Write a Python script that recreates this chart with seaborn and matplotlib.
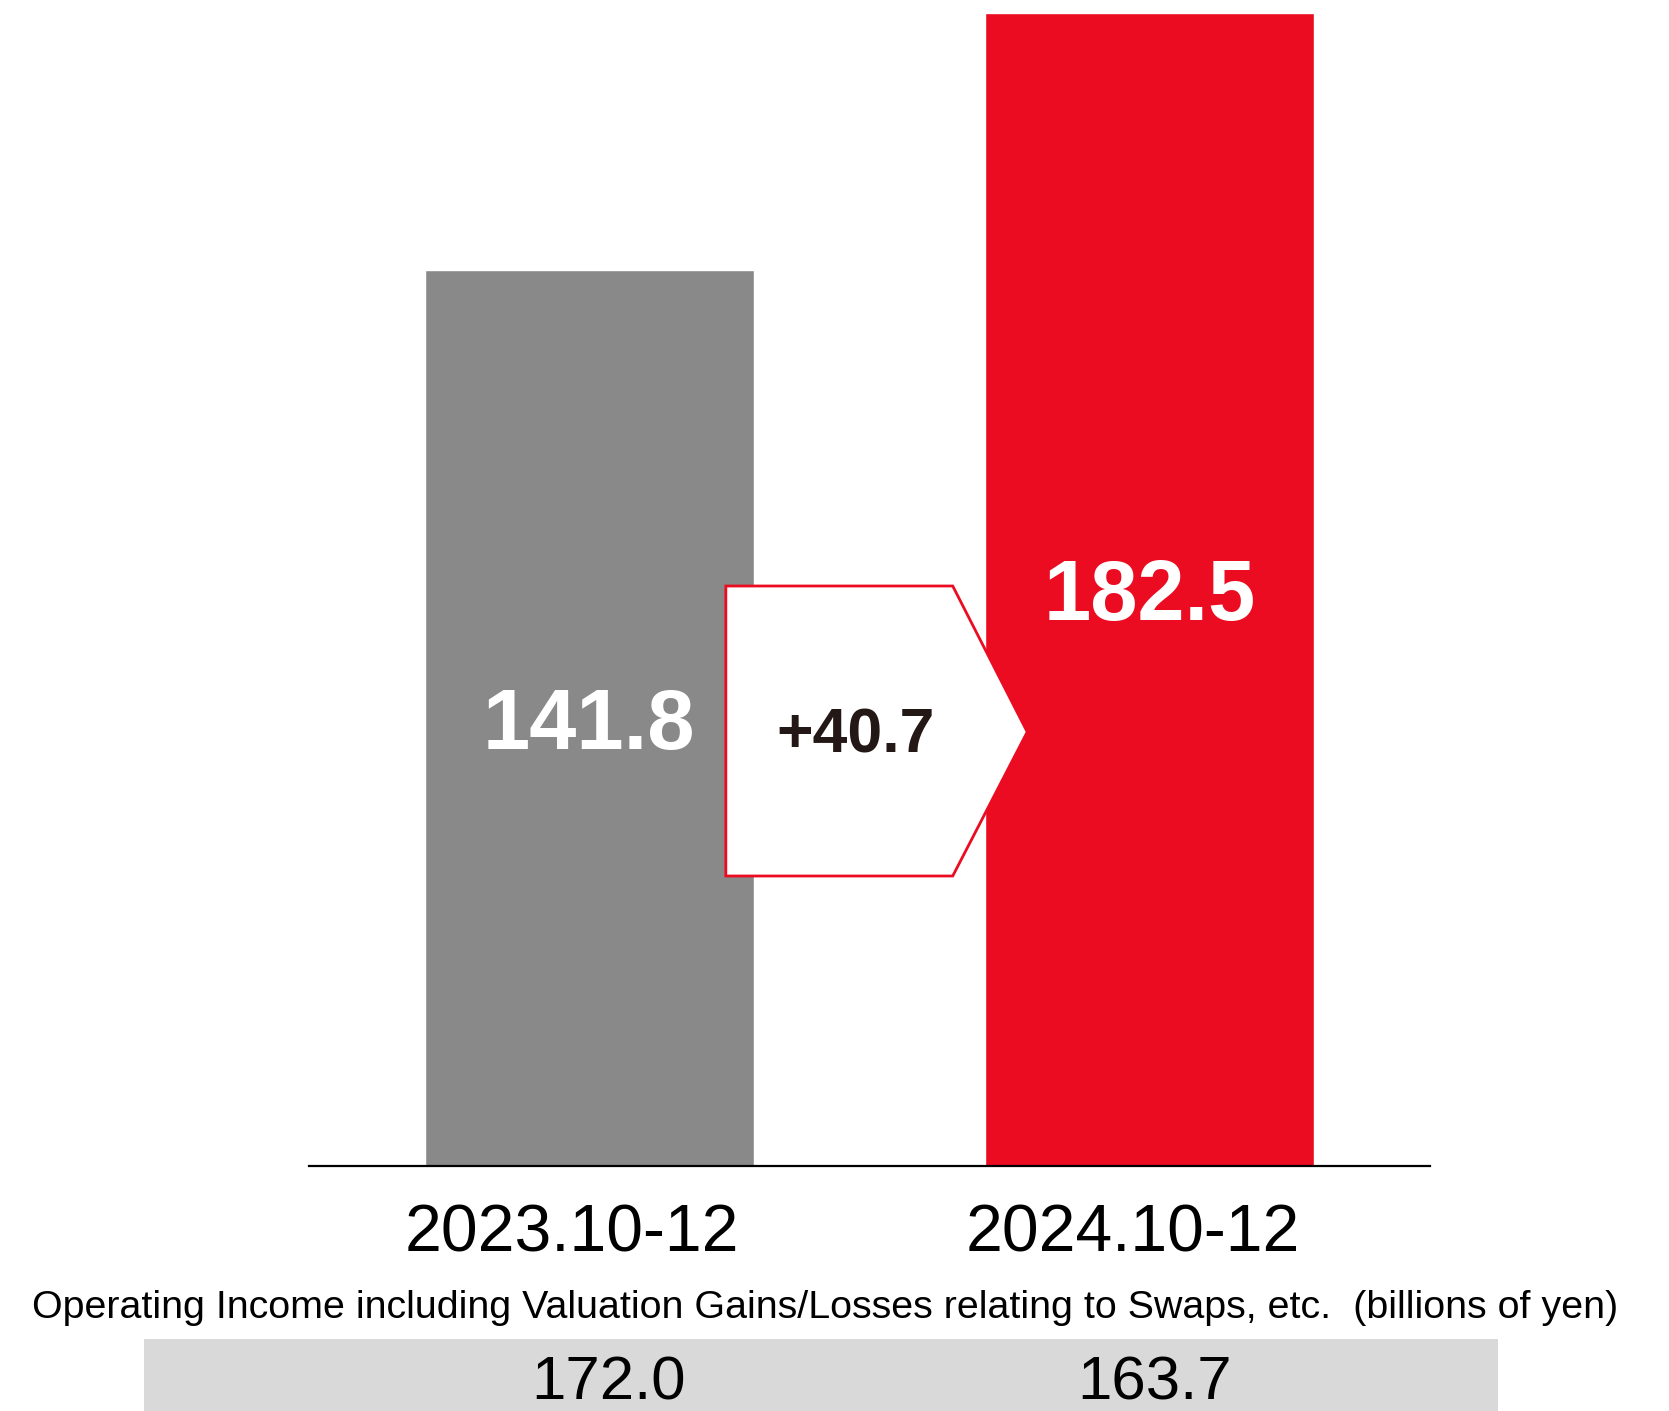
import matplotlib
matplotlib.use("Agg")
import matplotlib.pyplot as plt
import matplotlib.font_manager as fm
from matplotlib.patches import Polygon, Rectangle
from matplotlib.transforms import ScaledTranslation
import seaborn as sns
import pandas as pd

# ---- data ----
periods = ["2023.10-12", "2024.10-12"]
values = [141.8, 182.5]
change_label = "+40.7"
subtitle = "Operating Income including Valuation Gains/Losses relating to Swaps, etc.  (billions of yen)"
table_values = ["172.0", "163.7"]

# ---- style ----
GRAY = "#898989"
RED = "#EB0C21"
BAND = "#D9D9D9"
DARK = "#231815"

sns.set_theme(style="white")
plt.rcParams["font.family"] = ["Liberation Sans", "DejaVu Sans"]
names = {f.name for f in fm.fontManager.ttflist}
narrow = "Liberation Sans Narrow" if "Liberation Sans Narrow" in names else "Liberation Sans"

W, H, DPI = 1669, 1411, 100
fig = plt.figure(figsize=(W / DPI, H / DPI), dpi=DPI)
ax = fig.add_axes([309 / W, 1 - 1166 / H, 1120.5 / W, 1166 / H])

df = pd.DataFrame({"period": periods, "value": values})
sns.barplot(data=df, x="period", y="value", hue="period", palette=[GRAY, RED],
            width=0.587, saturation=1, legend=False, ax=ax, zorder=2)

ax.set_xlim(-0.5, 1.5)
ax.set_ylim(0, 184.55)
ax.set_xlabel("")
ax.set_ylabel("")
ax.set_yticks([])
for s in ["top", "left", "right"]:
    ax.spines[s].set_visible(False)
ax.spines["bottom"].set_color("black")
ax.spines["bottom"].set_linewidth(1.6)
ax.spines["bottom"].set_zorder(5)
ax.tick_params(axis="x", length=0, pad=27, labelsize=47.5, labelcolor="black")
shift = ScaledTranslation(-17 / DPI, 0, fig.dpi_scale_trans)
for lab in ax.get_xticklabels():
    lab.set_transform(lab.get_transform() + shift)

# value labels inside bars
for i, v in enumerate(values):
    ax.annotate(f"{v:.1f}", xy=(i, v / 2), xytext=(0, -22.3), textcoords="offset points",
                ha="center", va="baseline", fontsize=61, fontweight="bold",
                color="white", zorder=6)

# change arrow (pentagon) between bars
ax_left, ax_shoulder, ax_tip = 0.244, 0.649, 0.782
ay_top, ay_tip, ay_bot = 91.8, 68.7, 45.9
arrow = Polygon([(ax_left, ay_top), (ax_shoulder, ay_top), (ax_tip, ay_tip),
                 (ax_shoulder, ay_bot), (ax_left, ay_bot)], closed=True,
                facecolor="white", edgecolor=RED, linewidth=2.0, zorder=7,
                joinstyle="miter")
ax.add_patch(arrow)
ax.annotate(change_label, xy=(0.4763, ay_tip), xytext=(0, -15), textcoords="offset points",
            ha="center", va="baseline", fontsize=45, fontweight="bold", color=DARK, zorder=8)

# subtitle
sub = fig.text(825 / W, 1 - 1318 / H, subtitle, ha="center", va="baseline",
               fontsize=29, color="black", family=[narrow, "DejaVu Sans"])
fig.canvas.draw()
bb = sub.get_window_extent()
target = 1586
sub.set_fontsize(29 * target / bb.width if narrow == "Liberation Sans Narrow" or bb.width > target else 29)

# table band
fig.patches.append(Rectangle((144 / W, 0), (1498 - 144) / W, (1411 - 1339) / H,
                             transform=fig.transFigure, facecolor=BAND, edgecolor="none",
                             zorder=0))
for xc, t in zip([608, 1155], table_values):
    fig.text(xc / W, 1 - 1399 / H, t, ha="center", va="baseline", fontsize=44.5, color="black")

fig.savefig("out.png", dpi=DPI, facecolor="white")
